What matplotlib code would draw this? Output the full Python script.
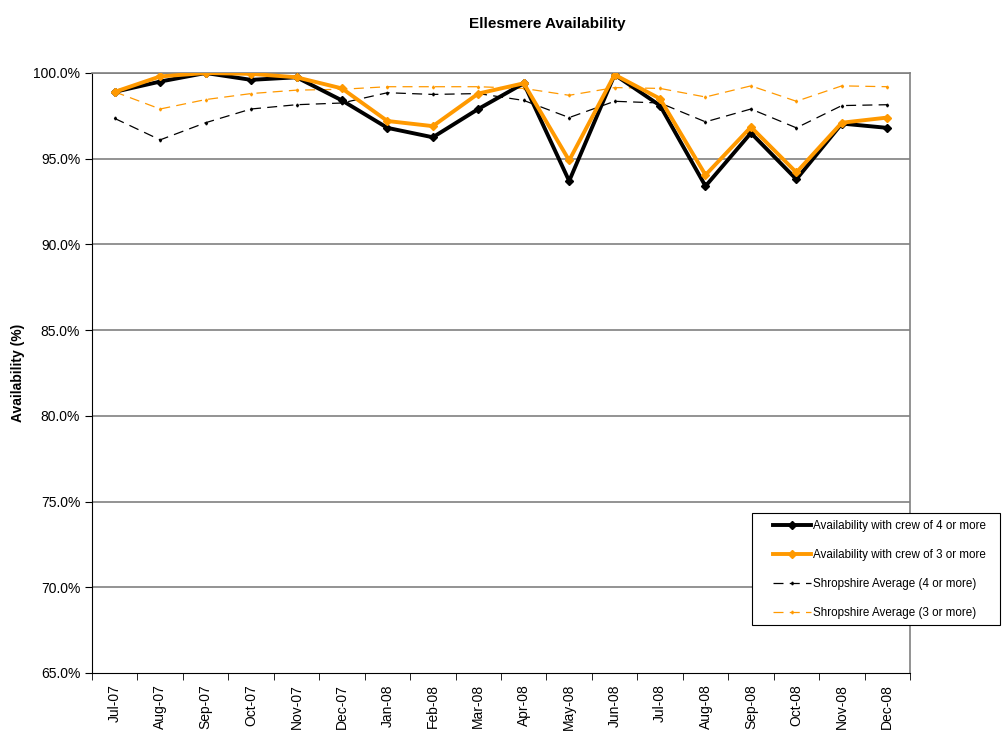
import numpy as np
import matplotlib
matplotlib.use('Agg')
import matplotlib.pyplot as plt
from matplotlib.patches import Rectangle
from matplotlib.ticker import FuncFormatter

plt.rcParams['font.family'] = ['Liberation Sans', 'DejaVu Sans']

months = ['Jul-07', 'Aug-07', 'Sep-07', 'Oct-07', 'Nov-07', 'Dec-07',
          'Jan-08', 'Feb-08', 'Mar-08', 'Apr-08', 'May-08', 'Jun-08',
          'Jul-08', 'Aug-08', 'Sep-08', 'Oct-08', 'Nov-08', 'Dec-08']

crew4 = [98.9, 99.5, 100.0, 99.6, 99.75, 98.4, 96.8, 96.25, 97.9, 99.4,
         93.7, 99.9, 98.1, 93.4, 96.5, 93.8, 97.05, 96.8]
crew3 = [98.9, 99.8, 100.0, 99.95, 99.75, 99.1, 97.2, 96.9, 98.8, 99.4,
         94.9, 99.9, 98.5, 94.05, 96.85, 94.2, 97.1, 97.4]
shrop4 = [97.35, 96.1, 97.1, 97.9, 98.15, 98.25, 98.85, 98.75, 98.8, 98.4,
          97.4, 98.35, 98.25, 97.15, 97.9, 96.8, 98.1, 98.15]
shrop3 = [98.9, 97.9, 98.45, 98.8, 99.0, 99.05, 99.2, 99.2, 99.2, 99.1,
          98.7, 99.15, 99.1, 98.6, 99.25, 98.35, 99.25, 99.2]

orange = '#FF9900'
x = np.arange(len(months))
W, H = 1003, 733

fig = plt.figure(figsize=(W / 100, H / 100), dpi=100)
ax = fig.add_axes([92 / W, 60 / H, 818 / W, 600 / H])

for v in np.arange(70, 101, 5):
    ax.axhline(v, color='#808080', lw=1.2, zorder=0)

ax.plot(x, shrop4, color='black', lw=0.9, ls=(0, (8, 5)), marker='d', ms=1.5,
        label='Shropshire Average (4 or more)', zorder=2)
ax.plot(x, shrop3, color=orange, lw=0.9, ls=(0, (8, 5)), marker='d', ms=1.5,
        label='Shropshire Average (3 or more)', zorder=2)
ax.plot(x, crew4, color='black', lw=2.8, marker='D', ms=4,
        label='Availability with crew of 4 or more', zorder=3)
ax.plot(x, crew3, color=orange, lw=2.8, marker='D', ms=4,
        label='Availability with crew of 3 or more', zorder=4)

ax.set_xlim(-0.5, len(months) - 0.5)
ax.set_ylim(65, 100)
ax.set_yticks(np.arange(65, 101, 5))
ax.yaxis.set_major_formatter(FuncFormatter(lambda v, p: f'{v:.1f}%'))
ax.set_xticks(x)
ax.set_xticklabels(months, rotation=90, fontsize=10)
ax.set_xticks(np.arange(-0.5, len(months), 1), minor=True)
ax.tick_params(axis='x', which='major', length=0, pad=8)
ax.tick_params(axis='x', which='minor', length=5, direction='out')
ax.tick_params(axis='y', length=5, direction='out', labelsize=10)

for side in ['top', 'right']:
    ax.spines[side].set_color('#808080')
    ax.spines[side].set_linewidth(1.2)
for side in ['left', 'bottom']:
    ax.spines[side].set_color('black')

ax.set_ylabel('Availability (%)', fontsize=10, fontweight='bold', labelpad=6)
fig.text(0.546, 0.977, 'Ellesmere Availability', ha='center', va='top',
         fontsize=11, fontweight='bold')

# legend box drawn separately so the entries can sit indented inside it
fig.add_artist(Rectangle((752 / W, 1 - 625 / H), 248 / W, 112 / H,
                         transform=fig.transFigure, facecolor='white',
                         edgecolor='black', lw=0.8, zorder=5))

handles, labels = ax.get_legend_handles_labels()
order = [2, 3, 0, 1]
leg = fig.legend([handles[i] for i in order], [labels[i] for i in order],
                 loc='upper left', bbox_to_anchor=(773 / W, 1 - 520 / H),
                 fontsize=8.4, frameon=False, handlelength=3.3,
                 labelspacing=1.45, borderpad=0, handletextpad=0.1,
                 borderaxespad=0)
leg.set_zorder(6)

fig.savefig('out.png', dpi=100)
